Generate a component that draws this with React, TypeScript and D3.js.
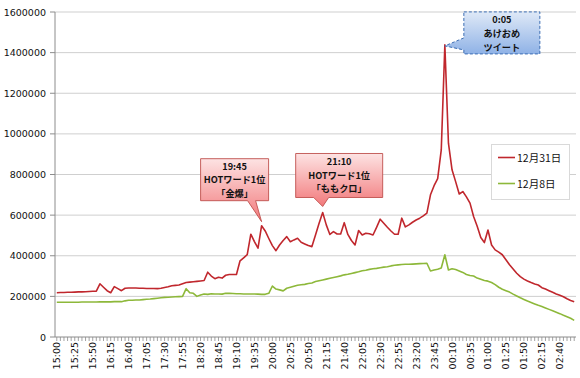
import React from "react";
import * as d3 from "d3";

// Tweet counts per 5 minutes (in thousands), 15:00 -> 03:00
const dec31 = [
  218, 219, 219, 220, 220, 221, 222, 222, 223, 224, 225, 226, 262, 245, 228, 218, 248, 238, 228, 240,
  241, 241, 241, 240, 240, 239, 239, 239, 238, 240, 244, 247, 252, 254, 256, 262, 268, 270, 272, 274,
  276, 278, 319, 300, 287, 294, 290, 304, 308, 308, 308, 375, 390, 405, 506, 470, 437, 548, 522, 485,
  450, 425, 453, 475, 494, 469, 478, 486, 466, 458, 450, 445, 502, 560, 613, 552, 505, 519, 507, 507,
  563, 505, 475, 453, 524, 502, 511, 508, 502, 540, 580, 560, 540, 522, 506, 506, 585, 542, 552, 565,
  576, 585, 596, 610, 700, 745, 780, 921, 1438, 954, 823, 765, 704, 716, 690, 659, 593, 545, 490, 465,
  527, 453, 429, 418, 405, 380, 356, 335, 314, 297, 285, 276, 268, 261, 256, 243, 236, 228, 220, 212,
  205, 198, 188, 180, 174,
];
const dec8 = [
  171, 171, 171, 171, 171, 171, 171, 172, 172, 172, 172, 172, 173, 173, 173, 173, 174, 174, 174, 178,
  181, 181, 182, 182, 184, 186, 187, 189, 191, 193, 195, 196, 197, 198, 199, 200, 238, 218, 215, 200,
  207, 212, 210, 213, 212, 212, 211, 215, 215, 214, 213, 213, 212, 212, 212, 212, 211, 210, 210, 215,
  251, 236, 232, 227, 240, 245, 250, 255, 257, 259, 263, 266, 273, 277, 281, 285, 289, 293, 297, 301,
  306, 309, 313, 317, 321, 326, 329, 333, 336, 338, 341, 344, 346, 350, 353, 355, 357, 358, 358, 359,
  360, 361, 362, 363, 325, 330, 334, 340, 405, 330, 336, 332, 325, 318, 308, 303, 300, 290, 284, 278,
  275, 268, 258, 245, 235, 228, 221, 211, 202, 193, 185, 177, 170, 163, 156, 150, 143, 136, 129, 122,
  115, 107, 100, 92, 82,
];
const yTicks = [0, 200, 400, 600, 800, 1000, 1200, 1400, 1600];
const seriesNames = ["12月31日", "12月8日"];
const callouts = [
  { idx: 57, lines: ["19:45", "HOTワード1位", "「金爆」"] },
  { idx: 74, lines: ["21:10", "HOTワード1位", "「ももクロ」"] },
  { idx: 108, lines: ["0:05", "あけおめ", "ツイート"] },
];

// category labels: 15:00, 15:05, ... 03:00
const times: string[] = [];
for (let k = 0; k < dec31.length; k++) {
  const m = 15 * 60 + k * 5;
  const hh = Math.floor(m / 60) % 24;
  const mm = m % 60;
  times.push(String(hh).padStart(2, "0") + ":" + String(mm).padStart(2, "0"));
}

const W = 580, H = 378;
const L = 55, R = 576, T = 12, B = 337;
const RED = "#c0272d";
const GREEN = "#8db83a";
const FONT = "'DejaVu Sans', Verdana, sans-serif";
const JFONT = "'Noto Sans CJK JP', 'DejaVu Sans', sans-serif";

export default function App() {
  const x = d3.scaleBand<string>().domain(times).range([L, R]).padding(0);
  const cx = (i: number) => (x(times[i]) as number) + x.bandwidth() / 2;
  const y = d3.scaleLinear().domain([0, 1600]).range([B, T]);
  const line = d3
    .line<number>()
    .x((_, i) => cx(i))
    .y((d) => y(d));

  const c1 = callouts[0], c2 = callouts[1], c3 = callouts[2];
  const t1 = { x: cx(c1.idx), y: y(dec31[c1.idx]) - 4 };
  const t2 = { x: cx(c2.idx), y: y(dec31[c2.idx]) - 6 };
  const t3 = { x: cx(c3.idx), y: y(dec31[c3.idx]) + 1 };

  const bottomCallout = (t: { x: number; y: number }, l: number, r: number, top: number, bot: number, b1: number, b2: number) => {
    const p = d3.path();
    p.moveTo(t.x + l, t.y + top);
    p.lineTo(t.x + r, t.y + top);
    p.lineTo(t.x + r, t.y + bot);
    p.lineTo(t.x + b2, t.y + bot);
    p.lineTo(t.x, t.y);
    p.lineTo(t.x + b1, t.y + bot);
    p.lineTo(t.x + l, t.y + bot);
    p.closePath();
    return p.toString();
  };
  const leftCallout = (t: { x: number; y: number }, l: number, r: number, top: number, bot: number, b1: number, b2: number) => {
    const p = d3.path();
    p.moveTo(t.x + l, t.y + top);
    p.lineTo(t.x + r, t.y + top);
    p.lineTo(t.x + r, t.y + bot);
    p.lineTo(t.x + l, t.y + bot);
    p.lineTo(t.x + l, t.y + b2);
    p.lineTo(t.x, t.y);
    p.lineTo(t.x + l, t.y + b1);
    p.closePath();
    return p.toString();
  };

  const box1 = { l: -61, r: 7, top: -63, bot: -21 };
  const box2 = { l: -27, r: 60, top: -53, bot: -9 };
  const box3 = { l: 19, r: 95, top: -34, bot: 8 };

  const textBlock = (cxp: number, cy0: number, lines: string[], dy: number) =>
    lines.map((s, k) => (
      <text key={k} x={cxp} y={cy0 + k * dy} textAnchor="middle" fontFamily={JFONT} fontWeight="bold" fontSize={9.2} fill="#111">
        {s}
      </text>
    ));

  return (
    <svg width={W} height={H} style={{ position: "fixed", left: 0, top: 0, background: "#fff" }} fontFamily={FONT}>
      <defs>
        <linearGradient id="redg" x1="0" y1="0" x2="0" y2="1">
          <stop offset="0" stopColor="#fde3e3" />
          <stop offset="1" stopColor="#f2797b" />
        </linearGradient>
        <linearGradient id="blueg" x1="0" y1="0" x2="0" y2="1">
          <stop offset="0" stopColor="#dfe9f7" />
          <stop offset="1" stopColor="#8fb2e6" />
        </linearGradient>
      </defs>
      {yTicks.map((v) => (
        <g key={v}>
          {v > 0 && <line x1={L} x2={R} y1={y(v)} y2={y(v)} stroke="#cfcfcf" strokeWidth={1} />}
          <line x1={L - 5} x2={L} y1={y(v)} y2={y(v)} stroke="#8c8c8c" />
          <text x={L - 9} y={y(v) + 3.5} textAnchor="end" fontSize={9.5} fill="#111">
            {v * 1000}
          </text>
        </g>
      ))}
      <line x1={L} x2={L} y1={T} y2={B} stroke="#8c8c8c" />
      <line x1={L} x2={R} y1={B} y2={B} stroke="#8c8c8c" />
      {times.map((t, i) => (
        <line key={t + i} x1={cx(i)} x2={cx(i)} y1={B} y2={B + 4} stroke="#8c8c8c" strokeWidth={0.8} />
      ))}
      {times.map((t, i) =>
        i % 5 === 0 ? (
          <text key={"l" + i} transform={`translate(${cx(i) + 3.5},${B + 5}) rotate(-90)`} textAnchor="end" fontSize={9.5} fill="#111">
            {t}
          </text>
        ) : null
      )}
      <path d={line(dec8) || ""} fill="none" stroke={GREEN} strokeWidth={1.6} strokeLinejoin="round" />
      <path d={line(dec31) || ""} fill="none" stroke={RED} strokeWidth={1.6} strokeLinejoin="round" />
      <rect x={491.5} y={144.5} width={78} height={55} fill="#fff" stroke="#d9d9d9" />
      {seriesNames.map((n, k) => (
        <g key={n}>
          <line x1={498} x2={515} y1={157.5 + k * 26} y2={157.5 + k * 26} stroke={k === 0 ? RED : GREEN} strokeWidth={1.6} />
          <text x={517} y={161.5 + k * 26} fontFamily={JFONT} fontSize={10.5} fill="#111">
            {n}
          </text>
        </g>
      ))}
      <path d={bottomCallout(t1, box1.l, box1.r, box1.top, box1.bot, -14, -6)} fill="url(#redg)" stroke="#c0504d" strokeWidth={0.9} />
      {textBlock(t1.x + (box1.l + box1.r) / 2, t1.y + box1.top + 11, c1.lines, 13.6)}
      <path d={bottomCallout(t2, box2.l, box2.r, box2.top, box2.bot, -9, 6)} fill="url(#redg)" stroke="#c0504d" strokeWidth={0.9} />
      {textBlock(t2.x + (box2.l + box2.r) / 2, t2.y + box2.top + 11.5, c2.lines, 13.6)}
      <path d={leftCallout(t3, box3.l, box3.r, box3.top, box3.bot, -8, 4)} fill="url(#blueg)" stroke="#3b6db3" strokeWidth={1} strokeDasharray="3,2" />
      {textBlock(t3.x + (box3.l + box3.r) / 2, t3.y + box3.top + 11.5, c3.lines, 13.6)}
    </svg>
  );
}
